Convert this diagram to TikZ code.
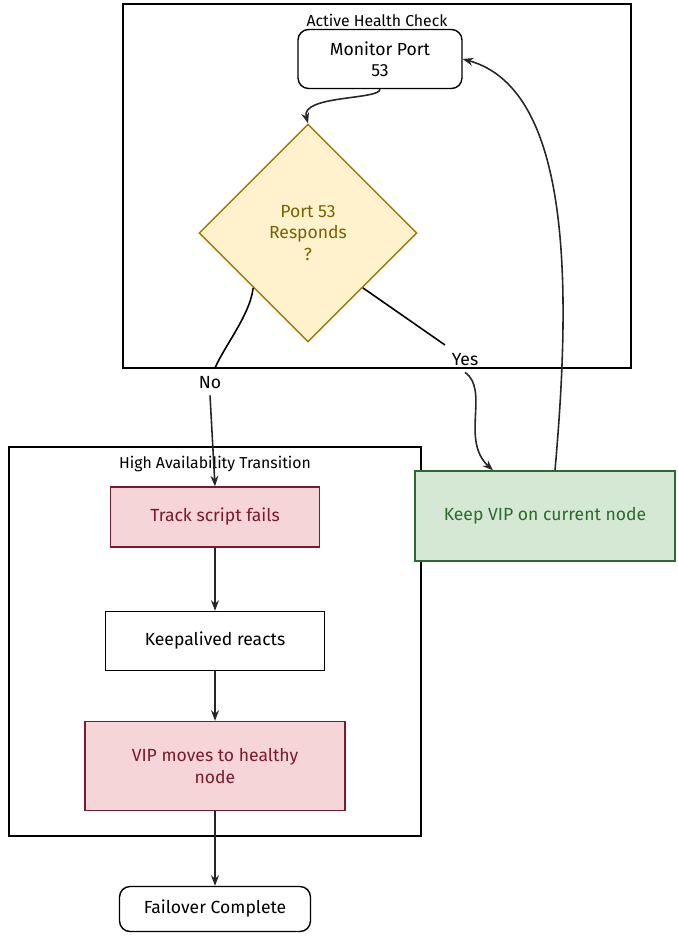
\documentclass[tikz,border=0pt]{standalone}
\usepackage{fontspec}
\setmainfont{Fira Sans}
\usetikzlibrary{shapes,arrows.meta,positioning}
\definecolor{ylfill}{HTML}{FFF2CC}
\definecolor{yldraw}{HTML}{9A7B00}
\definecolor{ylText}{HTML}{7A6200}
\definecolor{rdfill}{HTML}{F5D5D8}
\definecolor{rddraw}{HTML}{7A1A2A}
\definecolor{gnfill}{HTML}{D5E8D4}
\definecolor{gndraw}{HTML}{2D6A2D}
\tikzstyle{grp}=[draw, line width=0.8pt]
\tikzstyle{grplbl}=[font=\small, inner sep=1pt]
\tikzstyle{box}=[draw, line width=0.8pt, align=center, inner sep=2pt]
\tikzstyle{red}=[box, fill=rdfill, draw=rddraw, text=rddraw]
\tikzstyle{flow}=[-{Stealth[length=6pt]}, line width=0.9pt, draw=black!85]
\begin{document}
\begin{tikzpicture}[x=0.02cm,y=-0.02cm]
\useasboundingbox (0,0) rectangle (678,937);
% groups
\draw[grp] (123,4) rectangle (631,368);
\node[grplbl] (lblA) at (377,20) {Active Health Check};
\draw[grp] (9,447) rectangle (421,836);
\node[grplbl] (lblB) at (215,464) {High Availability Transition};
% nodes
\node[box, rounded corners=6pt, minimum width=3.28cm, minimum height=1.18cm] (mon) at (380,59) {Monitor Port\\53};
\node[box, diamond, fill=ylfill, draw=yldraw, text=ylText, minimum width=4.36cm, minimum height=4.36cm] (dec) at (308,233) {Port 53\\Responds\\?};
\node[box, fill=gnfill, draw=gndraw, text=gndraw, minimum width=5.2cm, minimum height=1.8cm] (keep) at (545,516) {Keep VIP on current node};
\node[red, minimum width=4.18cm, minimum height=1.2cm] (track) at (215,517) {Track script fails};
\node[box, minimum width=4.38cm, minimum height=1.18cm] (react) at (215,641) {Keepalived reacts};
\node[red, minimum width=5.2cm, minimum height=1.78cm] (vip) at (215,766) {VIP moves to healthy\\node};
\node[box, rounded corners=6pt, minimum width=3.82cm, minimum height=0.9cm] (done) at (215,909) {Failover Complete};
\coordinate (noEnd) at (215,368);
\coordinate (yesEnd) at (445,345);
% edges
\draw[flow] (mon.south) .. controls (380,100) and (300,95) .. (dec.north);
\draw[line width=0.9pt] (dec.south west) .. controls (250,315) and (225,345) .. (noEnd);
\node (no) at (210,383) {No};
\draw[flow] (no.south) -- (track.north);
\draw[line width=0.9pt] (dec.south east) -- (yesEnd);
\node (yes) at (465,360) {Yes};
\draw[flow] (yes.south) .. controls (490,390) and (460,440) .. (keep.north west -| 493,0);
\draw[flow] (keep.north -| 555,0) .. controls (570,300) and (575,90) .. (mon.east);
\draw[flow] (track) -- (react);
\draw[flow] (react) -- (vip);
\draw[flow] (vip) -- (done);
\end{tikzpicture}
\end{document}
